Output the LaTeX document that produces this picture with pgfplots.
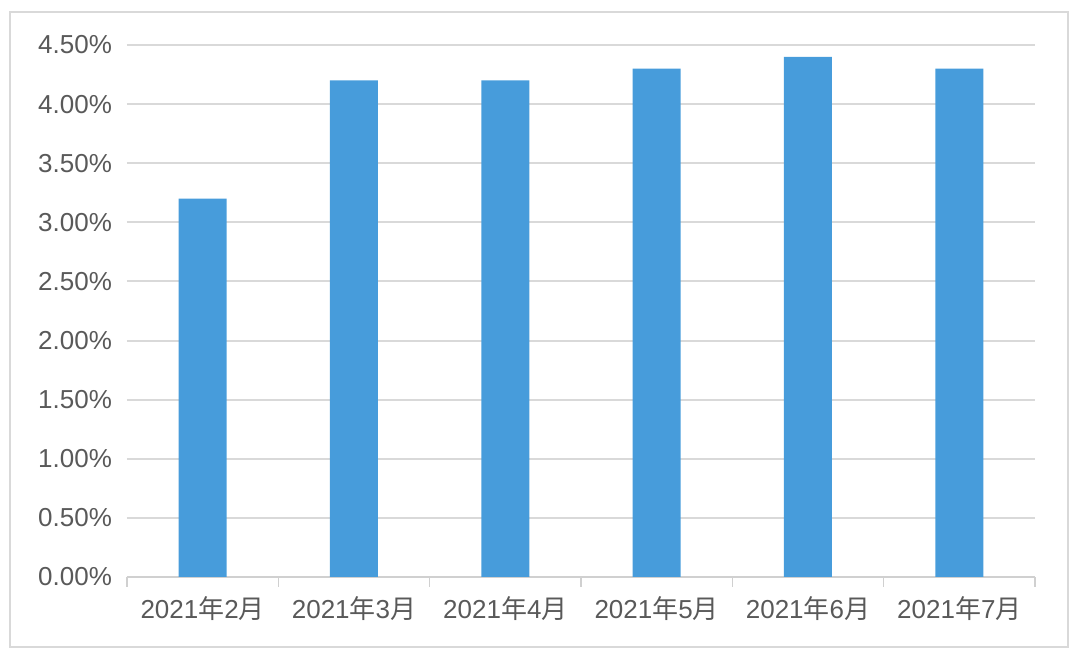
\documentclass[border=0pt]{standalone}
\usepackage{pgfplots}
\pgfplotsset{compat=1.18}
\usepackage{fontspec}
\setmainfont{Liberation Sans}
\newfontfamily\cjk{Noto Sans CJK SC}
\definecolor{barblue}{HTML}{479CDB}
\definecolor{txtgray}{HTML}{595959}
\definecolor{gridgray}{HTML}{D9D9D9}
\definecolor{axgray}{HTML}{D0D0D0}
\begin{document}
\begin{tikzpicture}
\path[use as bounding box] (0,0) rectangle (540pt,328pt);
\draw[gridgray, line width=1.2pt] (5pt,4.5pt) rectangle (534pt,322pt);
\begin{axis}[
  at={(63.5pt,39.5pt)}, anchor=south west,
  scale only axis, width=454pt, height=266pt,
  xmin=0.5, xmax=6.5, ymin=0, ymax=4.5,
  xtick={1,2,3,4,5,6},
  xticklabels={2021{\cjk 年}2{\cjk 月},2021{\cjk 年}3{\cjk 月},2021{\cjk 年}4{\cjk 月},2021{\cjk 年}5{\cjk 月},2021{\cjk 年}6{\cjk 月},2021{\cjk 年}7{\cjk 月}},
  minor xtick={0.5,1.5,2.5,3.5,4.5,5.5,6.5},
  major tick length=0pt, minor tick length=5pt,
  tick align=outside,
  axis x line*=bottom, axis y line*=left,
  axis line style={-},
  x axis line style={axgray, line width=0.8pt},
  y axis line style={draw=none},
  xtick style={axgray, line width=0.8pt},
  ytick style={draw=none},
  ytick={0,0.5,1,1.5,2,2.5,3,3.5,4,4.5},
  yticklabel={\pgfmathprintnumber[fixed,fixed zerofill,precision=2,assume math mode=true]{\tick}\%},
  ymajorgrids, major grid style={gridgray, line width=1pt},
  ticklabel style={font=\fontsize{13}{15}\selectfont, text=txtgray},
  xticklabel style={yshift=-6pt},
  yticklabel style={xshift=-4pt},
  ybar, bar width=24pt,
]
\addplot[fill=barblue, draw=none] coordinates {(1,3.2) (2,4.2) (3,4.2) (4,4.3) (5,4.4) (6,4.3)};
\end{axis}
\end{tikzpicture}
\end{document}
